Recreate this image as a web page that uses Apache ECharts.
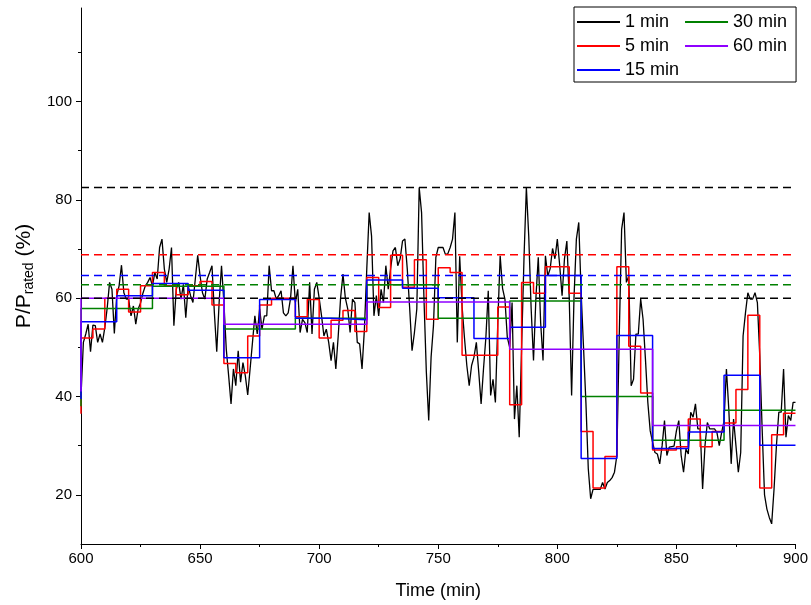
<!DOCTYPE html>
<html>
<head>
<meta charset="utf-8">
<script src="https://cdn.jsdelivr.net/npm/echarts@6/dist/echarts.min.js"></script>
<style>
html,body{margin:0;padding:0;background:#fff;}
#c{width:811px;height:605px;}
</style>
</head>
<body>
<div id="c"></div>
<script>
// ---- data ----
const startMinute = 600;
const endMinute = 900;
const xTicks = [600, 650, 700, 750, 800, 850, 900];
const yTickLabels = [20, 40, 60, 80, 100];
const yMinorTicks = [30, 50, 70, 90, 110];

// 1-min values, minute 600..900
const oneMin = [
40, 51, 52.7, 54.7, 49.1, 54.5, 54.4, 51, 52.7, 51,
54, 58, 63.2, 61.8, 52.8, 60.5, 62.5, 66.7, 61.1, 59.8,
59.8, 56.4, 58.4, 54.7, 57.8, 59, 61, 62.5, 63.2, 64.2,
62.5, 65.2, 63.9, 70.3, 72, 65.9, 63.2, 65.9, 70.3, 54.4,
61.8, 63.2, 59.8, 62.8, 56, 62.5, 60.5, 59.1, 63.9, 68.7,
64.5, 61.1, 59.8, 63.9, 65.2, 66.6, 57, 49.1, 59.1, 66.6,
59.1, 49.6, 44.2, 38.5, 45.6, 42.2, 49.3, 42.9, 46.9, 44.2,
40.3, 45.6, 51, 56.4, 52.7, 57.8, 53.7, 56.4, 56.4, 66.6,
61.5, 61.5, 59.8, 60.5, 61.5, 57, 56.4, 57, 60, 66.6,
59.1, 61.8, 53, 55.7, 55, 53, 63.2, 52.7, 61.8, 63.2,
60, 56.4, 52.3, 53.7, 51, 47.3, 51, 45.6, 52.3, 60,
64.9, 60, 57.8, 53, 59.8, 59.1, 51, 50.7, 45.6, 53.7,
66, 77.4, 72.6, 56.4, 60.5, 56.4, 61.8, 59.1, 66.6, 61.8,
66, 69.6, 70.3, 66.6, 68, 71.6, 72, 65.9, 58, 49.3,
53, 57.8, 82.5, 77.4, 60, 45, 35.1, 48, 54.4, 68.3,
70.3, 70.3, 70.3, 68.9, 69, 70.3, 72, 77.4, 51, 68.5,
58.4, 52, 46.3, 42.2, 46.3, 48, 51, 45, 38.5, 45.6,
52, 61.5, 40.2, 43.5, 38.8, 55, 68.6, 62, 59.8, 52,
50, 59.1, 35.4, 42.2, 31.7, 50, 68, 82.5, 72.6, 58,
47.3, 60, 68.3, 55, 47.3, 68.6, 64.5, 66, 70.1, 68,
72, 66.6, 60.5, 68, 71.6, 60, 40.2, 60, 72, 75.4,
61.1, 50, 38.8, 25.3, 19.2, 21.1, 21.1, 21.1, 21.1, 22.5,
21.2, 22.5, 22.9, 23.5, 24.6, 28, 52.3, 74, 77.4, 63.2,
64.5, 42.2, 43.5, 52.7, 52.7, 59.8, 55.7, 47.6, 38.8, 33,
30.7, 28.6, 28.3, 26.3, 30, 35.1, 28, 29.7, 29.8, 29.9,
33, 35.1, 28, 24.6, 29.3, 28.3, 36.8, 35.8, 38.5, 33.4,
33.4, 21.2, 30, 34.7, 33.4, 33.4, 33.4, 32.7, 30, 32.7,
35, 45.6, 37.4, 26.3, 35.4, 30, 24.6, 28.6, 52.3, 57,
61.1, 59.8, 59.8, 61.1, 59.1, 48.3, 33.4, 20, 17.1, 15.4,
14.1, 21.2, 30, 36.8, 36.8, 45.6, 31.7, 36.1, 35.1, 38.8,
38.8
];

// 5-min averages (intervals starting 600, 605, ...)
const fiveMin = [
51.9, 53.7, 60.0, 61.8, 57.2, 62.5, 65.2, 62.5, 60.7, 62.5, 63.4, 58.6,
46.7, 44.8, 52.3, 58.6, 60.0, 60.0, 56.2, 59.7, 51.9, 55.5, 57.5, 53.2,
64.2, 58.1, 68.7, 62.2, 67.8, 55.7, 66.2, 65.2, 48.4, 48.4, 48.4, 58.2,
38.3, 63.2, 61.0, 66.4, 66.4, 61.0, 32.9, 21.4, 27.8, 66.4, 50.2, 40.7,
29.1, 29.1, 29.8, 35.4, 29.8, 32.9, 34.6, 41.4, 56.5, 21.4, 32.2, 36.6
];
// 15-min averages
const fifteenMin = [
55.2, 60.5, 63.0, 61.6, 47.9, 59.7, 55.9, 55.6, 63.7, 62.0,
60.1, 51.8, 54.1, 64.6, 27.4, 52.4, 29.4, 32.8, 44.3, 30.1
];
// 30-min averages
const thirtyMin = [57.9, 62.4, 53.7, 55.9, 62.7, 55.9, 59.4, 40.0, 31.1, 37.2];
// 60-min averages
const sixtyMin = [60.0, 54.7, 59.2, 49.6, 34.1];

// first plotted value of each averaged trace at minute 600
const startValues = {five: 36.5, fifteen: 39.5, thirty: 38, sixty: 41};

// maximum (dashed) reference levels
const maxLevels = [
  {name: 'max 1 min', value: 82.5, color: '#000000'},
  {name: 'max 5 min', value: 68.8, color: '#ff0000'},
  {name: 'max 15 min', value: 64.6, color: '#0000ff'},
  {name: 'max 30 min', value: 62.7, color: '#008000'},
  {name: 'max 60 min', value: 60.0, color: '#000000'}
];

// ---- build ----
function stepData(start, vals, len) {
  const d = [[startMinute, start]];
  vals.forEach((v, i) => d.push([startMinute + i * len, v]));
  d.push([endMinute, vals[vals.length - 1]]);
  return d;
}
const font = '"Liberation Sans", Arial, sans-serif';

const series = [
  {name: '1 min', type: 'line', symbol: 'none', color: '#000000',
   lineStyle: {width: 1.3, color: '#000000'},
   data: oneMin.map((v, i) => [startMinute + i, v])},
  {name: '5 min', type: 'line', symbol: 'none', step: 'end', color: '#ff0000',
   lineStyle: {width: 1.5, color: '#ff0000'},
   data: stepData(startValues.five, fiveMin, 5)},
  {name: '30 min', type: 'line', symbol: 'none', step: 'end', color: '#008000',
   lineStyle: {width: 1.5, color: '#008000'},
   data: stepData(startValues.thirty, thirtyMin, 30)},
  {name: '15 min', type: 'line', symbol: 'none', step: 'end', color: '#0000ff',
   lineStyle: {width: 1.5, color: '#0000ff'},
   data: stepData(startValues.fifteen, fifteenMin, 15)},
  {name: '60 min', type: 'line', symbol: 'none', step: 'end', color: '#8f00ff',
   lineStyle: {width: 1.5, color: '#8f00ff'},
   data: stepData(startValues.sixty, sixtyMin, 60)}
];
maxLevels.forEach(m => {
  series.push({name: m.name, type: 'line', symbol: 'none', silent: true,
    lineStyle: {width: 1.5, color: m.color, type: [8, 5]},
    data: [[startMinute, m.value], [endMinute, m.value]]});
});

const chart = echarts.init(document.getElementById('c'));
chart.setOption({
  animation: false,
  backgroundColor: '#ffffff',
  textStyle: {fontFamily: font, color: '#000'},
  grid: {left: 81, right: 15, top: 8, bottom: 59},
  legend: {
    data: ['1 min', '5 min', '15 min', '30 min', '60 min'],
    orient: 'vertical',
    left: 574, top: 7, height: 70,
    padding: [6, 9, 3, 3],
    icon: 'rect',
    itemWidth: 43, itemHeight: 2, itemGap: 6,
    backgroundColor: '#ffffff', borderColor: '#000000', borderWidth: 1,
    textStyle: {fontFamily: font, fontSize: 18, color: '#000'}
  },
  xAxis: {
    type: 'value', min: startMinute, max: endMinute, interval: 50,
    name: 'Time (min)', nameLocation: 'middle', nameGap: 38,
    nameTextStyle: {fontFamily: font, fontSize: 18, color: '#000'},
    axisLine: {lineStyle: {color: '#000', width: 1}},
    axisTick: {show: true, inside: false, length: 5, lineStyle: {color: '#000'}},
    minorTick: {show: true, splitNumber: 2, length: 3, lineStyle: {color: '#000'}},
    axisLabel: {fontFamily: font, fontSize: 15, color: '#000', margin: 7},
    splitLine: {show: false}
  },
  yAxis: [{
    type: 'value', min: 10, max: 119, position: 'left',
    name: 'P/P{sub|rated} (%)', nameLocation: 'middle', nameGap: 45,
    nameTextStyle: {fontFamily: font, fontSize: 21, color: '#000',
      rich: {sub: {fontFamily: font, fontSize: 14, verticalAlign: 'bottom', padding: [9, 0, 0, 0]}}},
    axisLine: {show: true, lineStyle: {color: '#000', width: 1}},
    axisTick: {show: true, inside: false, length: 5, customValues: yTickLabels, lineStyle: {color: '#000'}},
    axisLabel: {fontFamily: font, fontSize: 15, color: '#000', margin: 9, customValues: yTickLabels},
    splitLine: {show: false}
  }, {
    type: 'value', min: 10, max: 119, position: 'left',
    axisLine: {show: false},
    axisTick: {show: true, inside: false, length: 3, customValues: yMinorTicks, lineStyle: {color: '#000'}},
    axisLabel: {show: false, customValues: yMinorTicks},
    splitLine: {show: false}
  }],
  series: series
});
</script>
</body>
</html>
